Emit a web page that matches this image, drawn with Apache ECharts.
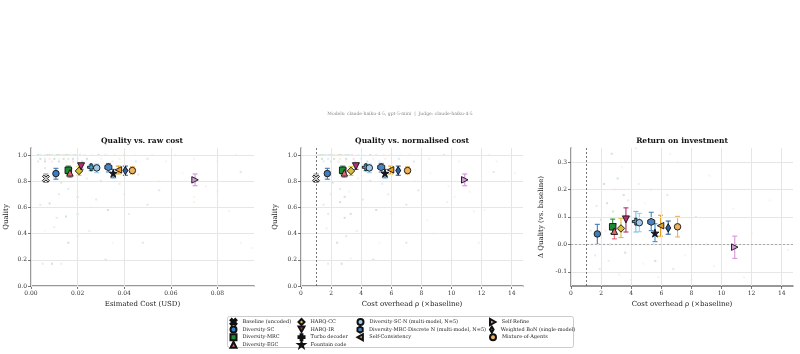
<!DOCTYPE html>
<html>
<head>
<meta charset="utf-8">
<script src="https://cdn.jsdelivr.net/npm/echarts@6/dist/echarts.min.js"></script>
<style>
  html, body { margin: 0; padding: 0; background: #fff; }
  #chart { width: 800px; height: 354px; }
</style>
</head>
<body>
<div id="chart"></div>
<script>
// methods, in legend order (column-major, 4 columns)
const methods = ['Baseline (uncoded)', 'Diversity-SC', 'Diversity-MRC', 'Diversity-EGC',
  'HARQ-CC', 'HARQ-IR', 'Turbo decoder', 'Fountain code',
  'Diversity-SC-N (multi-model, N=5)', 'Diversity-MRC-Discrete N (multi-model, N=5)', 'Self-Consistency',
  'Self-Refine', 'Weighted BoN (single-model)', 'Mixture-of-Agents'];

const colors = ['#d9d9d9', '#3f7cbf', '#1f8a35', '#ea6271', '#d8bd3c', '#b2306f', '#3fa7d6',
  '#141428', '#9fcbec', '#4a84c0', '#e3a227', '#d595d8', '#2f5f9f', '#eab262'];
const barColors = ['#999999', '#3f7cbf', '#1f8a35', '#ea6271', '#d8bd3c', '#b2306f', '#6cc3ec',
  '#3a8fd0', '#9fcbec', '#4a84c0', '#e3a227', '#d595d8', '#2f5f9f', '#eab262'];

const symbols = [
  'path://M0,2 L2,0 L5,3 L8,0 L10,2 L7,5 L10,8 L8,10 L5,7 L2,10 L0,8 L3,5 Z',
  'circle', 'rect', 'triangle', 'diamond',
  'path://M0,0 L10,0 L5,9 Z',
  'path://M3.5,0 H6.5 V3.5 H10 V6.5 H6.5 V10 H3.5 V6.5 H0 V3.5 H3.5 Z',
  'path://M5,0 L6.2,3.6 L10,3.6 L6.9,5.9 L8.1,9.5 L5,7.3 L1.9,9.5 L3.1,5.9 L0,3.6 L3.8,3.6 Z',
  'circle',
  'path://M5,0 L9.33,2.5 L9.33,7.5 L5,10 L0.67,7.5 L0.67,2.5 Z',
  'path://M10,0 L10,10 L1,5 Z',
  'path://M0,0 L0,10 L9,5 Z',
  'path://M5,0 L8,5 L5,10 L2,5 Z',
  'circle'];
const symbolSizes = [7, 6.5, 6.5, 6.5, 7.5, 7, 7, 8, 6.5, 7, 6.5, 6.5, [5, 8], 6.5];

// summary values
const costUsd  = [0.0064, 0.0107, 0.0160, 0.0167, 0.0206, 0.0215, 0.0258, 0.0353, 0.0282, 0.0332, 0.0375, 0.0704, 0.0405, 0.0435];
const overhead = [1.00, 1.75, 2.77, 2.88, 3.32, 3.65, 4.31, 5.58, 4.54, 5.33, 5.95, 10.88, 6.46, 7.08];
const quality  = [0.820, 0.858, 0.883, 0.863, 0.878, 0.914, 0.906, 0.860, 0.901, 0.906, 0.886, 0.810, 0.881, 0.881];
const qLow     = [0.790, 0.815, 0.855, 0.830, 0.845, 0.890, 0.880, 0.825, 0.865, 0.870, 0.855, 0.765, 0.845, 0.855];
const qHigh    = [0.855, 0.898, 0.915, 0.895, 0.910, 0.935, 0.925, 0.890, 0.930, 0.935, 0.915, 0.855, 0.915, 0.910];
const deltaQ   = [null, 0.038, 0.064, 0.048, 0.058, 0.091, 0.083, 0.041, 0.079, 0.082, 0.068, -0.010, 0.060, 0.064];
const dLow     = [null, 0.000, 0.040, 0.020, 0.025, 0.045, 0.045, 0.010, 0.046, 0.050, 0.030, -0.051, 0.037, 0.027];
const dHigh    = [null, 0.073, 0.092, 0.075, 0.095, 0.133, 0.120, 0.075, 0.113, 0.117, 0.106, 0.030, 0.085, 0.102];

// faint per-item points [x, y, method]
const rawPts = [
  [0.003,1,2],[0.005,1,0],[0.007,1,2],[0.009,1,1],[0.011,1,2],[0.013,1,3],[0.015,1,2],[0.017,1,4],[0.019,1,2],[0.021,1,5],
  [0.023,1,6],[0.026,1,8],[0.029,1,7],[0.032,1,9],[0.036,1,10],[0.040,1,12],[0.045,1,13],[0.052,1,11],[0.062,1,13],[0.088,1,11],
  [0.004,1,1],[0.006,1,3],[0.008,1,2],[0.010,1,4],[0.012,1,2],[0.014,1,5],[0.016,1,2],[0.018,1,6],
  [0.004,0.97,2],[0.006,0.97,1],[0.008,0.97,3],[0.010,0.97,2],[0.012,0.97,4],[0.014,0.97,2],[0.016,0.97,5],[0.018,0.97,2],
  [0.020,0.97,6],[0.024,0.97,7],[0.030,0.97,8],[0.038,0.97,10],[0.050,0.97,12],[0.070,0.97,11],
  [0.003,0.95,1],[0.006,0.95,2],[0.009,0.95,3],[0.012,0.95,2],[0.015,0.95,4],[0.018,0.95,5],[0.022,0.95,7],[0.028,0.95,8],
  [0.035,0.95,9],[0.045,0.95,12],[0.058,0.95,13],[0.080,0.95,11],
  [0.006,0.90,1],[0.010,0.83,2],[0.013,0.79,2],[0.016,0.74,1],[0.020,0.72,4],[0.024,0.82,3],[0.030,0.80,7],[0.038,0.78,9],
  [0.046,0.85,12],[0.055,0.80,10],[0.065,0.86,13],[0.075,0.76,11],[0.090,0.87,12],
  [0.004,0.62,1],[0.008,0.63,2],[0.011,0.52,1],[0.015,0.53,2],[0.020,0.55,2],[0.026,0.60,4],[0.033,0.58,7],[0.042,0.55,9],
  [0.050,0.62,12],[0.060,0.50,13],[0.070,0.64,10],[0.085,0.57,11],
  [0.006,0.42,0],[0.010,0.45,3],[0.016,0.33,2],[0.020,0.38,5],[0.025,0.42,6],[0.035,0.33,8],[0.048,0.33,12],[0.062,0.40,13],
  [0.090,0.33,11],[0.095,0.29,13],[0.005,0.17,1],[0.009,0.17,2],[0.013,0.17,3],[0.020,0.21,4],[0.032,0.20,7],
  [0.020,0.68,2],[0.012,0.70,1],[0.028,0.66,5],[0.040,0.70,9],[0.055,0.73,12],[0.070,0.68,13],[0.080,0.72,11]
];
const normPts = [
  [1.0,1,0],[1.3,1,2],[1.6,1,1],[1.9,1,2],[2.2,1,3],[2.5,1,2],[2.8,1,4],[3.1,1,2],[3.4,1,5],[3.8,1,6],
  [4.2,1,8],[4.6,1,7],[5.0,1,9],[5.5,1,10],[6.0,1,12],[6.6,1,13],[7.2,1,13],[8.0,1,11],[9.5,1,12],[12.5,1,11],
  [1.15,1,1],[1.45,1,2],[1.75,1,3],[2.05,1,2],[2.35,1,4],[2.65,1,2],[2.95,1,5],[3.25,1,6],
  [1.0,0.97,0],[1.4,0.97,2],[1.8,0.97,1],[2.2,0.97,2],[2.6,0.97,3],[3.0,0.97,2],[3.5,0.97,5],[4.0,0.97,6],[4.8,0.97,8],
  [5.6,0.97,10],[6.5,0.97,12],[8.5,0.97,11],
  [1.0,0.95,0],[1.5,0.95,1],[2.0,0.95,2],[2.5,0.95,3],[3.0,0.95,4],[3.6,0.95,5],[4.4,0.95,7],[5.2,0.95,9],[6.2,0.95,13],
  [7.5,0.95,12],[10.5,0.95,11],[13.0,0.95,11],
  [1.0,0.90,0],[1.0,0.75,0],[1.0,0.64,0],[1.0,0.55,0],[1.0,0.38,0],
  [1.6,0.83,1],[2.1,0.79,2],[2.6,0.74,1],[3.2,0.72,4],[3.8,0.82,3],[4.6,0.80,7],[5.4,0.78,9],[6.4,0.85,12],
  [7.6,0.80,10],[8.6,0.86,13],[9.8,0.76,11],[12.8,0.87,12],[14.2,0.86,13],
  [1.5,0.62,1],[1.8,0.55,1],[2.6,0.64,2],[2.9,0.52,2],[3.3,0.55,2],[4.2,0.60,4],[5.0,0.58,7],[6.0,0.55,9],
  [7.0,0.62,12],[8.4,0.50,13],[9.7,0.64,10],[11.5,0.57,11],[12.2,0.58,13],
  [1.7,0.44,3],[2.4,0.33,2],[3.0,0.38,5],[3.7,0.42,6],[5.2,0.33,8],[7.0,0.33,12],[8.8,0.40,13],[11.8,0.33,11],
  [1.8,0.17,1],[2.7,0.17,2],[3.3,0.21,4],[4.8,0.20,7],
  [2.9,0.68,2],[2.0,0.70,1],[4.1,0.66,5],[5.8,0.70,9],[7.8,0.73,12],[10.2,0.68,13],[11.2,0.72,11]
];
const roiPts = [
  [1.0,0,0],[1.4,0,1],[1.8,0,2],[2.2,0,1],[2.6,0,2],[3.0,0,3],[3.4,0,4],[3.8,0,5],[4.2,0,6],[4.6,0,8],
  [5.0,0,9],[5.5,0,7],[6.0,0,10],[6.5,0,12],[7.0,0,13],[7.8,0,13],[9.0,0,12],[11.0,0,11],[13.5,0,11],
  [1.0,0.33,0],[1.0,0.17,0],[1.0,-0.05,0],[1.0,-0.09,0],
  [2.7,0.33,2],[3.1,0.24,2],[2.4,0.15,2],[2.2,0.22,2],[3.5,0.18,2],[3.9,0.10,2],[2.8,0.12,2],[3.6,-0.03,2],
  [1.7,0.14,1],[1.9,-0.09,1],[2.3,0.05,3],[2.9,0.20,3],[3.4,0.28,4],[3.8,0.16,5],[4.5,0.22,6],[4.9,0.15,8],
  [5.3,0.20,9],[5.6,-0.06,7],[6.0,0.12,10],[6.4,0.18,12],[7.1,0.30,13],[7.6,-0.04,13],[8.3,0.10,12],
  [9.2,0.25,11],[10.0,0.08,11],[10.8,0.13,11],[12.0,0.04,11],[13.2,0.16,13],[14.4,-0.02,11],
  [1.6,-0.04,1],[2.5,-0.06,3],[3.2,-0.11,4],[4.0,-0.13,6],[4.8,-0.07,8],[5.8,-0.12,10],[6.8,-0.09,12],
  [8.0,-0.13,13],[9.5,-0.08,11],[11.5,-0.12,11],[1.3,0.05,1],[2.0,0.09,2],[4.3,0.35,6],[6.6,0.33,13]
];

// ticks
const qTicks   = [0, 0.2, 0.4, 0.6, 0.8, 1.0];
const usdTicks = [0, 0.02, 0.04, 0.06, 0.08];
const rhoTicks = [0, 2, 4, 6, 8, 10, 12, 14];
const dqTicks  = [-0.1, 0, 0.1, 0.2, 0.3];

const FONT = 'DejaVu Serif';
const GRID_COLOR = '#e6e6e6';
const chart = echarts.init(document.getElementById('chart'), null, { renderer: 'canvas' });

const grids = [
  { left: 31, top: 148, width: 223, height: 138 },
  { left: 301, top: 148, width: 222, height: 138 },
  { left: 571, top: 148, width: 222, height: 138 }
];

function makeAxis(idx, min, max, ticks, name, gap, fmt) {
  return {
    type: 'value', gridIndex: idx, min: min, max: max,
    name: name, nameLocation: 'middle', nameGap: gap,
    nameTextStyle: { fontFamily: FONT, fontSize: 7, color: '#222' },
    axisLine: { show: true, onZero: false, lineStyle: { color: '#777', width: 1.5 } },
    axisTick: { show: true, length: 3, customValues: ticks, lineStyle: { color: '#555', width: 0.8 } },
    axisLabel: { customValues: ticks, fontFamily: FONT, fontSize: 6, color: '#333', margin: 4, formatter: fmt },
    splitLine: { show: false }
  };
}

const xAxes = [
  makeAxis(0, 0, 0.0957, usdTicks, 'Esimated Cost (USD)', 15, v => v.toFixed(2)),
  makeAxis(1, 0, 14.75, rhoTicks, 'Cost overhead ρ (×baseline)', 15, v => String(v)),
  makeAxis(2, 0, 14.75, rhoTicks, 'Cost overhead ρ (×baseline)', 15, v => String(v))
];
const yAxes = [
  makeAxis(0, 0, 1.053, qTicks, 'Quality', 21, v => v.toFixed(1)),
  makeAxis(1, 0, 1.053, qTicks, 'Quality', 22, v => v.toFixed(1)),
  makeAxis(2, -0.1516, 0.351, dqTicks, 'Δ Quality (vs. baseline)', 26, v => v.toFixed(1))
];

const series = [];

function gridLines(xt, yt) {
  return xt.map(v => ({ xAxis: v })).concat(yt.map(v => ({ yAxis: v })));
}

const faintSets = [rawPts, normPts, roiPts];
const gridTicks = [[usdTicks, qTicks], [rhoTicks, qTicks], [rhoTicks, dqTicks]];
faintSets.forEach((pts, p) => {
  const marks = { silent: true, symbol: 'none', label: { show: false },
    lineStyle: { color: GRID_COLOR, width: 1, type: 'solid' }, data: gridLines(gridTicks[p][0], gridTicks[p][1]) };
  series.push({
    type: 'scatter', xAxisIndex: p, yAxisIndex: p, z: 1, silent: true,
    symbol: 'rect', symbolSize: 2,
    data: pts.map(d => ({ value: [d[0], d[1]],
      itemStyle: { color: colors[d[2]], opacity: d[2] === 2 ? 0.22 : 0.15 } })),
    markLine: marks
  });
});

// reference lines
series.push({
  type: 'line', xAxisIndex: 1, yAxisIndex: 1, data: [], silent: true, z: 2,
  markLine: { silent: true, symbol: 'none', label: { show: false }, animation: false,
    lineStyle: { color: '#555', width: 0.8, type: [2, 2] }, data: [{ xAxis: 1 }] }
});
series.push({
  type: 'line', xAxisIndex: 2, yAxisIndex: 2, data: [], silent: true, z: 2,
  markLine: { silent: true, symbol: 'none', label: { show: false }, animation: false,
    data: [
      { xAxis: 1, lineStyle: { color: '#555', width: 0.8, type: [2, 2] } },
      { yAxis: 0, lineStyle: { color: '#aaa', width: 1, type: [2, 2] } }
    ] }
});

// error bars
function errSeries(p, xs, lo, hi) {
  const data = [];
  xs.forEach((x, i) => { if (lo[i] !== null) data.push([x, lo[i], hi[i], i]); });
  return {
    type: 'custom', xAxisIndex: p, yAxisIndex: p, z: 3, silent: true,
    encode: { x: 0, y: [1, 2] },
    data: data,
    renderItem: function (params, api) {
      const a = api.coord([api.value(0), api.value(1)]);
      const b = api.coord([api.value(0), api.value(2)]);
      const st = { stroke: barColors[api.value(3)], lineWidth: 1.1 };
      return { type: 'group', children: [
        { type: 'line', shape: { x1: a[0], y1: a[1], x2: b[0], y2: b[1] }, style: st },
        { type: 'line', shape: { x1: a[0] - 2.5, y1: a[1], x2: a[0] + 2.5, y2: a[1] }, style: st },
        { type: 'line', shape: { x1: b[0] - 2.5, y1: b[1], x2: b[0] + 2.5, y2: b[1] }, style: st }
      ] };
    }
  };
}
series.push(errSeries(0, costUsd, qLow, qHigh));
series.push(errSeries(1, overhead, qLow, qHigh));
series.push(errSeries(2, overhead, dLow, dHigh));

// main markers
methods.forEach((m, i) => {
  const pts = [[costUsd[i], quality[i]], [overhead[i], quality[i]], [overhead[i], deltaQ[i]]];
  pts.forEach((pt, p) => {
    if (pt[1] === null) return;
    series.push({
      name: m, type: 'scatter', xAxisIndex: p, yAxisIndex: p, z: 5,
      symbol: symbols[i], symbolSize: symbolSizes[i],
      itemStyle: { color: colors[i], borderColor: '#111', borderWidth: 0.9, opacity: 1 },
      data: [pt]
    });
  });
});

// legend: one small legend per entry, laid out column-major like the original
const legendCol = [0, 0, 0, 0, 1, 1, 1, 1, 2, 2, 2, 3, 3, 3];
const legendRow = [0, 1, 2, 3, 0, 1, 2, 3, 0, 1, 2, 0, 1, 2];
const colLeft = [229.5, 297.5, 356.5, 489];
const rowTop = [318, 325.6, 333.2, 340.8];
const legends = methods.map((m, i) => ({
  orient: 'horizontal', left: colLeft[legendCol[i]], top: rowTop[legendRow[i]], padding: 0,
  itemWidth: 6, itemHeight: 6, itemGap: 0, selectedMode: false,
  textStyle: { fontFamily: FONT, fontSize: 5, lineHeight: 6, color: '#222', padding: [0, 0, 0, 1] },
  data: [m]
}));

const titleStyle = { font: 'bold 7.5px "DejaVu Serif"', fill: '#111', textAlign: 'center', textVerticalAlign: 'middle' };

chart.setOption({
  animation: false,
  backgroundColor: '#ffffff',
  grid: grids,
  xAxis: xAxes,
  yAxis: yAxes,
  legend: legends,
  series: series,
  graphic: [
    { type: 'text', x: 400, y: 114, style: { text: 'Models: claude-haiku-4-5, gpt-5-mini  |  Judge: claude-haiku-4-5',
      font: '4.5px "DejaVu Serif"', fill: '#888', textAlign: 'center', textVerticalAlign: 'middle' } },
    { type: 'text', x: 142, y: 141, style: Object.assign({ text: 'Quality vs. raw cost' }, titleStyle) },
    { type: 'text', x: 412, y: 141, style: Object.assign({ text: 'Quality vs. normalised cost' }, titleStyle) },
    { type: 'text', x: 682, y: 141, style: Object.assign({ text: 'Return on investment' }, titleStyle) },
    { type: 'rect', z: -1, shape: { x: 227.5, y: 316.5, width: 346, height: 31, r: 2 },
      style: { fill: '#fff', stroke: '#cccccc', lineWidth: 1 } }
  ]
});
</script>
</body>
</html>
